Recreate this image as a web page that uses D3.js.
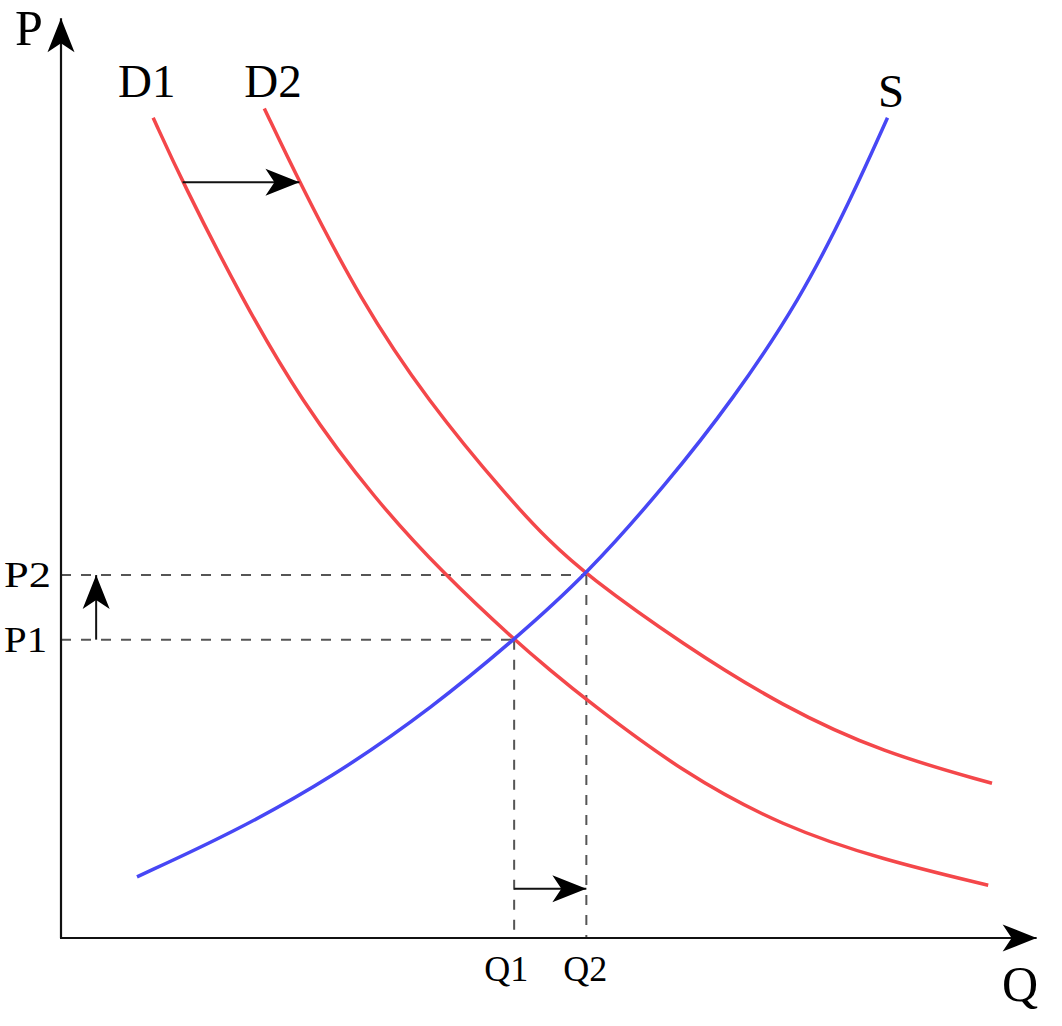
<!DOCTYPE html>
<html>
<head>
<meta charset="utf-8">
<script src="https://cdn.jsdelivr.net/npm/d3@7"></script>
<style>
  html, body { margin: 0; padding: 0; background: #fff; }
  svg { display: block; }
  text { font-family: "Liberation Serif", "Times New Roman", serif; fill: #000; }
</style>
</head>
<body>
<svg id="chart" width="1062" height="1026"></svg>
<script>
// ---- Data ----
const supplyQ  = [8.0, 18.1, 28.6, 39.2, 47.7, 55.3, 63.8, 70.7, 77.8, 83.1, 87.0];
const supplyP  = [7.2, 12.4, 18.9, 27.2, 35.1, 42.7, 53.5, 63.3, 75.1, 86.8, 96.5];

const demand1Q = [9.7, 12.8, 19.1, 25.2, 33.1, 40.4, 47.7, 51.5, 55.3, 65.5, 76.0, 86.5, 97.6];
const demand1P = [96.5, 88.9, 75.1, 63.3, 51.5, 42.7, 35.1, 31.5, 28.0, 19.4, 13.1, 9.2, 6.2];

const demand2Q = [21.4, 25.1, 31.5, 38.5, 47.3, 51.3, 55.3, 65.5, 76.0, 86.5, 98.0];
const demand2P = [97.6, 88.9, 75.1, 63.3, 51.5, 46.8, 42.7, 34.5, 27.2, 21.8, 18.2];

const priceLabels    = ["P1", "P2"];
const priceLevels    = [35.1, 42.7];
const quantityLabels = ["Q1", "Q2"];
const quantityLevels = [47.7, 55.3];

const curveNames = ["D1", "D2", "S"];
const axisNames  = ["P", "Q"];

// shift arrows (data units)
const demandShift    = { p: 88.9, from: 12.8, to: 25.1 };
const priceShiftQ    = 3.7;
const quantityShiftP = 5.8;
const axisMax = { q: 102.7, p: 108.2 };

// ---- Scales ----
const x = d3.scaleLinear().domain([0, 100]).range([61, 1011]);
const y = d3.scaleLinear().domain([0, 100]).range([938, 88]);

const svg = d3.select("#chart");

// arrowhead marker (stealth-like)
const defs = svg.append("defs");
defs.append("marker")
  .attr("id", "head")
  .attr("markerUnits", "userSpaceOnUse")
  .attr("viewBox", "-36 -15 38 30")
  .attr("refX", 0).attr("refY", 0)
  .attr("markerWidth", 38).attr("markerHeight", 30)
  .attr("orient", "auto")
  .append("path")
  .attr("d", "M0,0 L-34,-13.5 L-25,0 L-34,13.5 Z")
  .attr("fill", "#000");

// ---- Dashed guide lines ----
const guides = svg.append("g")
  .attr("stroke", "#555").attr("stroke-width", 2).attr("stroke-dasharray", "10,10")
  .attr("fill", "none");
priceLevels.forEach((p, i) => {
  guides.append("line")
    .attr("x1", x(0)).attr("y1", y(p))
    .attr("x2", x(quantityLevels[i])).attr("y2", y(p));
  guides.append("line")
    .attr("x1", x(quantityLevels[i])).attr("y1", y(p))
    .attr("x2", x(quantityLevels[i])).attr("y2", y(0));
});

// ---- Curves ----
const line = d3.line().x(d => x(d[0])).y(d => y(d[1])).curve(d3.curveBasis);
const zip = (a, b) => a.map((v, i) => [v, b[i]]);

const curves = [
  { q: demand1Q, p: demand1P, color: "#f4474a" },
  { q: demand2Q, p: demand2P, color: "#f4474a" },
  { q: supplyQ,  p: supplyP,  color: "#4747f5" }
];
svg.selectAll("path.curve").data(curves).join("path")
  .attr("class", "curve")
  .attr("d", d => line(zip(d.q, d.p)))
  .attr("fill", "none")
  .attr("stroke", d => d.color)
  .attr("stroke-width", 3.5)
  .attr("stroke-linecap", "butt");

// ---- Axes ----
svg.append("line")
  .attr("x1", x(0)).attr("y1", y(0)).attr("x2", x(0)).attr("y2", y(axisMax.p))
  .attr("stroke", "#111").attr("stroke-width", 2.2).attr("marker-end", "url(#head)");
svg.append("line")
  .attr("x1", x(0) - 1).attr("y1", y(0)).attr("x2", x(axisMax.q)).attr("y2", y(0))
  .attr("stroke", "#111").attr("stroke-width", 2.2).attr("marker-end", "url(#head)");

// ---- Shift arrows ----
const arrows = svg.append("g").attr("stroke", "#111").attr("stroke-width", 2);
arrows.append("line")
  .attr("x1", x(demandShift.from)).attr("y1", y(demandShift.p))
  .attr("x2", x(demandShift.to)).attr("y2", y(demandShift.p))
  .attr("marker-end", "url(#head)");
arrows.append("line")
  .attr("x1", x(priceShiftQ)).attr("y1", y(priceLevels[0]))
  .attr("x2", x(priceShiftQ)).attr("y2", y(priceLevels[1]))
  .attr("marker-end", "url(#head)");
arrows.append("line")
  .attr("x1", x(quantityLevels[0])).attr("y1", y(quantityShiftP))
  .attr("x2", x(quantityLevels[1])).attr("y2", y(quantityShiftP))
  .attr("marker-end", "url(#head)");

// ---- Labels ----
const curveLabelPos = [
  { name: curveNames[0], q: demand1Q[0] - 3.7, p: demand1P[0] + 2.4 },
  { name: curveNames[1], q: demand2Q[0] - 2.1, p: demand2P[0] + 1.3 },
  { name: curveNames[2], q: supplyQ[supplyQ.length - 1] - 1.0, p: supplyP[supplyP.length - 1] + 1.3 }
];
svg.selectAll("text.curve").data(curveLabelPos).join("text")
  .attr("class", "curve")
  .attr("x", d => x(d.q)).attr("y", d => y(d.p))
  .attr("font-size", 47)
  .text(d => d.name);

// axis names
svg.append("text").attr("x", 15).attr("y", 45).attr("font-size", 50).text(axisNames[0]);
svg.append("text").attr("x", 1002).attr("y", 1001).attr("font-size", 50).text(axisNames[1]);

// price tick labels
svg.selectAll("text.plab").data(priceLevels).join("text")
  .attr("class", "plab")
  .attr("x", 4).attr("y", d => y(d) + 12)
  .attr("font-size", 36)
  .attr("textLength", (d, i) => i === 0 ? 43 : 47)
  .attr("lengthAdjust", "spacingAndGlyphs")
  .text((d, i) => priceLabels[i]);

// quantity tick labels
svg.selectAll("text.qlab").data(quantityLevels).join("text")
  .attr("class", "qlab")
  .attr("x", (d, i) => x(d) - (i === 0 ? 8 : 1))
  .attr("y", 981)
  .attr("text-anchor", "middle")
  .attr("font-size", 36)
  .text((d, i) => quantityLabels[i]);
</script>
</body>
</html>
